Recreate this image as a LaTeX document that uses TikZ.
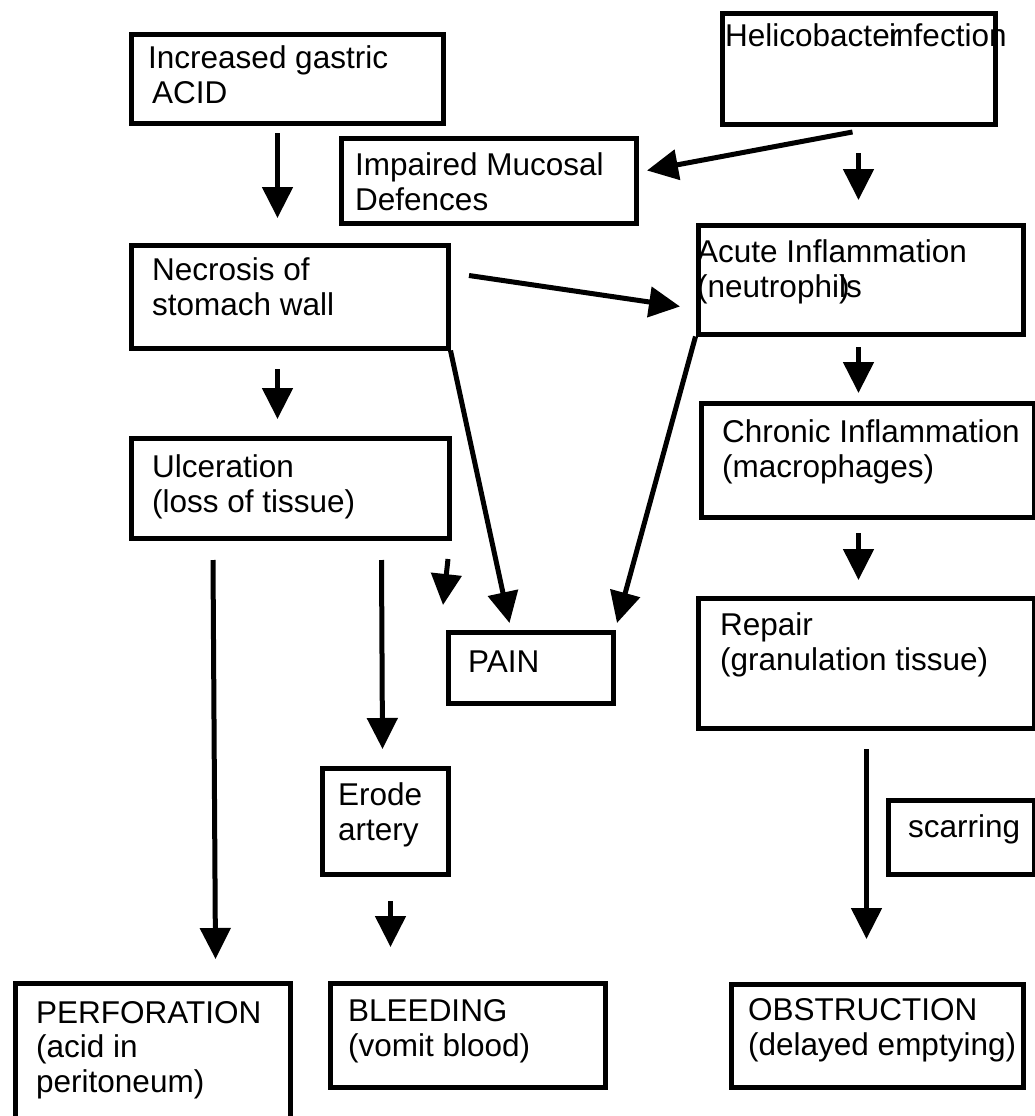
\documentclass[tikz,border=0pt]{standalone}
\usepackage{fontspec}
\setmainfont{Liberation Sans}
\usetikzlibrary{arrows.meta}

\tikzset{
  box/.style={draw, line width=5pt, inner sep=0pt, anchor=north west},
  txt/.style={anchor=base west, align=left, inner sep=0pt, font=\fontsize{31.5}{34.5}\selectfont},
  arr/.style={line width=5pt, -{Triangle[length=31pt,width=30pt]}}
}

\begin{document}
\begin{tikzpicture}[x=1pt,y=1pt]

\fill [white] (0,0) rectangle (1034,-1116);
\useasboundingbox (0,0) rectangle (1034,-1116);

\node [box, minimum width=312pt, minimum height=88pt] (acid) at (128.5,-32.5) {};
\node [box, minimum width=295pt, minimum height=85pt] (impair) at (338.5,-135.5) {};
\node [box, minimum width=273pt, minimum height=110pt] (helico) at (719.5,-11.5) {};
\node [box, minimum width=317pt, minimum height=103pt] (necro) at (128.5,-242.5) {};
\node [box, minimum width=325pt, minimum height=109pt] (acute) at (695.5,-222.5) {};
\node [box, minimum width=318pt, minimum height=100pt] (ulcer) at (128.5,-435.5) {};
\node [box, minimum width=333pt, minimum height=114pt] (chronic) at (698.5,-400.5) {};
\node [box, minimum width=336pt, minimum height=130pt] (repair) at (695.5,-595.5) {};
\node [box, minimum width=165pt, minimum height=71pt] (pain) at (445.5,-629.5) {};
\node [box, minimum width=126pt, minimum height=106pt] (erode) at (319.5,-765.5) {};
\node [box, minimum width=146pt, minimum height=74pt] (scar) at (885.5,-797.5) {};
\node [box, minimum width=275pt, minimum height=145pt] (perf) at (12.5,-980.5) {};
\node [box, minimum width=275pt, minimum height=104pt] (bleed) at (327.5,-980.5) {};
\node [box, minimum width=292pt, minimum height=103pt] (obstr) at (728.5,-981.5) {};

% texts sit on the baseline of their last line
\node [txt] (acidT) at (148,-103) {Increased gastric\\\hspace*{4pt}ACID};
\node [txt] (impairT) at (355,-210) {Impaired Mucosal\\Defences};
\node [txt] (helicoT) at (725,-47) {Helicobacter\kern-0.35em infection};
\node [txt] (necroT) at (152,-315) {Necrosis of\\stomach wall};
\node [txt] (acuteT) at (697,-297) {Acute Inflammation\\(neutrophi\rlap{)}ls};
\node [txt] (ulcerT) at (152,-512) {Ulceration\\(loss of tissue)};
\node [txt] (chronicT) at (722,-477) {Chronic Inflammation\\(macrophages)};
\node [txt] (repairT) at (720,-670) {Repair\\(granulation tissue)};
\node [txt] (painT) at (468,-672) {PAIN};
\node [txt] (erodeT) at (338,-840) {Erode\\artery};
\node [txt] (scarT) at (908,-837) {scarring};
\node [txt] (perfT) at (36,-1092) {PERFORATION\\(acid in\\peritoneum)};
\node [txt] (bleedT) at (348,-1056) {BLEEDING\\(vomit blood)};
\node [txt] (obstrT) at (748,-1055) {OBSTRUCTION\\(delayed emptying)};

\draw [arr] ([shift={(-9.5,-7.5)}]acid.south) -- ([shift={(-12,24.5)}]necro.north);
\draw [arr] ([shift={(-6,-5.5)}]helico.south) -- ([shift={(8.5,10)}]impair.east);
\draw [arr] ([shift={(0,-26.5)}]helico.south) -- ([shift={(-2,22.5)}]acute.north);
\draw [arr] ([shift={(18.5,21)}]necro.east) -- ([shift={(-15.5,-27)}]acute.west);
\draw [arr] ([shift={(-12,-18.5)}]necro.south) -- ([shift={(-12.5,16.5)}]ulcer.north);
\draw [arr] (necro.south east) -- ([shift={(-21,6.5)}]pain.north);
\draw [arr] (acute.south west) -- ([shift={(1.5,6.5)}]pain.north east);
\draw [arr] ([shift={(-2,-10.5)}]acute.south) -- ([shift={(-9,7.5)}]chronic.north);
\draw [arr] ([shift={(-9,-13.5)}]chronic.south) -- ([shift={(-7.5,15.5)}]repair.north);
\draw [arr] ([shift={(84.5,-19.5)}]ulcer.south west) -- ([shift={(63,21.5)}]perf.north);
\draw [arr] ([shift={(91.5,-19.5)}]ulcer.south) -- ([shift={(-2.5,16.5)}]erode.north);
\draw [arr] ([shift={(-3.5,-18.5)}]ulcer.south east) -- ([shift={(-2.5,24.5)}]pain.north west);
\draw [arr] ([shift={(5.5,-24.5)}]erode.south) -- ([shift={(-77,33.5)}]bleed.north);
\draw [arr] ([shift={(0.5,-18.5)}]repair.south) -- ([shift={(-10.5,42.5)}]obstr.north);

\end{tikzpicture}
\end{document}
